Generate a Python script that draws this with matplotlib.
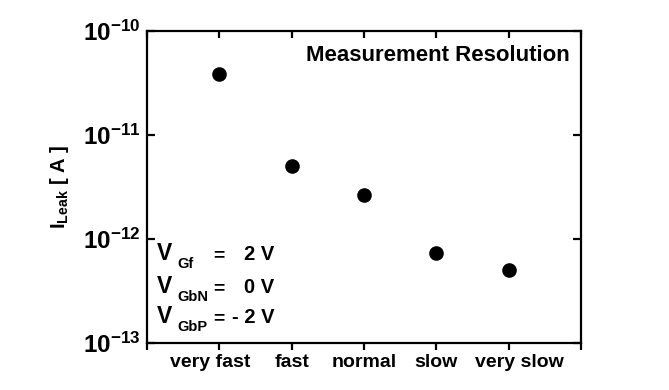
import math
import matplotlib
matplotlib.use("Agg")
import matplotlib.pyplot as plt
import matplotlib.transforms as mtransforms
from matplotlib.ticker import FixedLocator, FuncFormatter, NullLocator

plt.rcParams['font.family'] = ['Liberation Sans', 'DejaVu Sans']
plt.rcParams['font.weight'] = 'bold'
plt.rcParams['mathtext.fontset'] = 'custom'
plt.rcParams['mathtext.rm'] = 'Liberation Sans:bold'
plt.rcParams['mathtext.bf'] = 'Liberation Sans:bold'
plt.rcParams['mathtext.it'] = 'Liberation Sans:bold'

categories = ["very fast", "fast", "normal", "slow", "very slow"]
leak_current = [3.86e-11, 5.05e-12, 2.65e-12, 7.35e-13, 5.05e-13]
y_ticks = [1e-13, 1e-12, 1e-11, 1e-10]
bias_subscripts = ["Gf", "GbN", "GbP"]
bias_values = ["2 V", "0 V", "- 2 V"]

fig = plt.figure(figsize=(6.69, 3.90), dpi=100)
ax = fig.add_axes([147/669, 1-343/390, (581-147)/669, (343-31)/390])

xpos = list(range(1, len(categories)+1))
ax.plot(xpos, leak_current, 'o', color='black', markersize=9.5, linestyle='none')

ax.set_yscale('log')
ax.set_ylim(1e-13, 1e-10)
ax.set_xlim(0, len(categories)+1)

ax.yaxis.set_major_locator(FixedLocator(y_ticks))
ax.yaxis.set_minor_locator(NullLocator())
ax.yaxis.set_major_formatter(FuncFormatter(lambda v, p: r"$\mathbf{10^{%d}}$" % round(math.log10(v))))

ax.set_xticks(list(range(0, len(categories)+2)))
ax.set_xticklabels([""] + categories + [""])

for s in ax.spines.values():
    s.set_linewidth(1.6)

ax.tick_params(axis='y', which='major', direction='in', length=6, width=1.6,
               labelsize=17.5, pad=5, right=True)
ax.tick_params(axis='x', which='major', direction='out', length=5, width=1.6,
               labelsize=14, pad=3, top=True)
for t in ax.xaxis.get_major_ticks():
    t.tick2line.set_marker(matplotlib.lines.TICKDOWN)

# slight label offsets as in the reference
labels = ax.get_xticklabels()
offs = {1: -9, 5: 11}
for i, lab in enumerate(labels):
    if i in offs:
        lab.set_transform(lab.get_transform() + mtransforms.ScaledTranslation(offs[i]/100, 0, fig.dpi_scale_trans))

ax.set_ylabel(r"$\mathbf{I_{Leak}}$ [ A ]", fontsize=14.5, fontweight='bold', labelpad=8)

ax.text(0.975, 0.92, "Measurement Resolution", transform=ax.transAxes,
        ha='right', va='center', fontsize=16, fontweight='bold')

H = 312.0
W = 434.0
ys = [(343-260)/H, (343-293)/H, (343-323)/H]
for sub, val, yy in zip(bias_subscripts, bias_values, ys):
    ax.text((157-147)/W, yy, "V", transform=ax.transAxes, ha='left', va='baseline',
            fontsize=16.5, fontweight='bold')
    ax.text((177-147)/W, yy - 8/H, sub, transform=ax.transAxes, ha='left', va='baseline',
            fontsize=10.5, fontweight='bold')
    ax.text((213-147)/W, yy, "=", transform=ax.transAxes, ha='left', va='baseline',
            fontsize=14, fontweight='bold')
    ax.text((274-147)/W, yy, val, transform=ax.transAxes, ha='right', va='baseline',
            fontsize=14.5, fontweight='bold')

fig.savefig("out.png", dpi=100)
